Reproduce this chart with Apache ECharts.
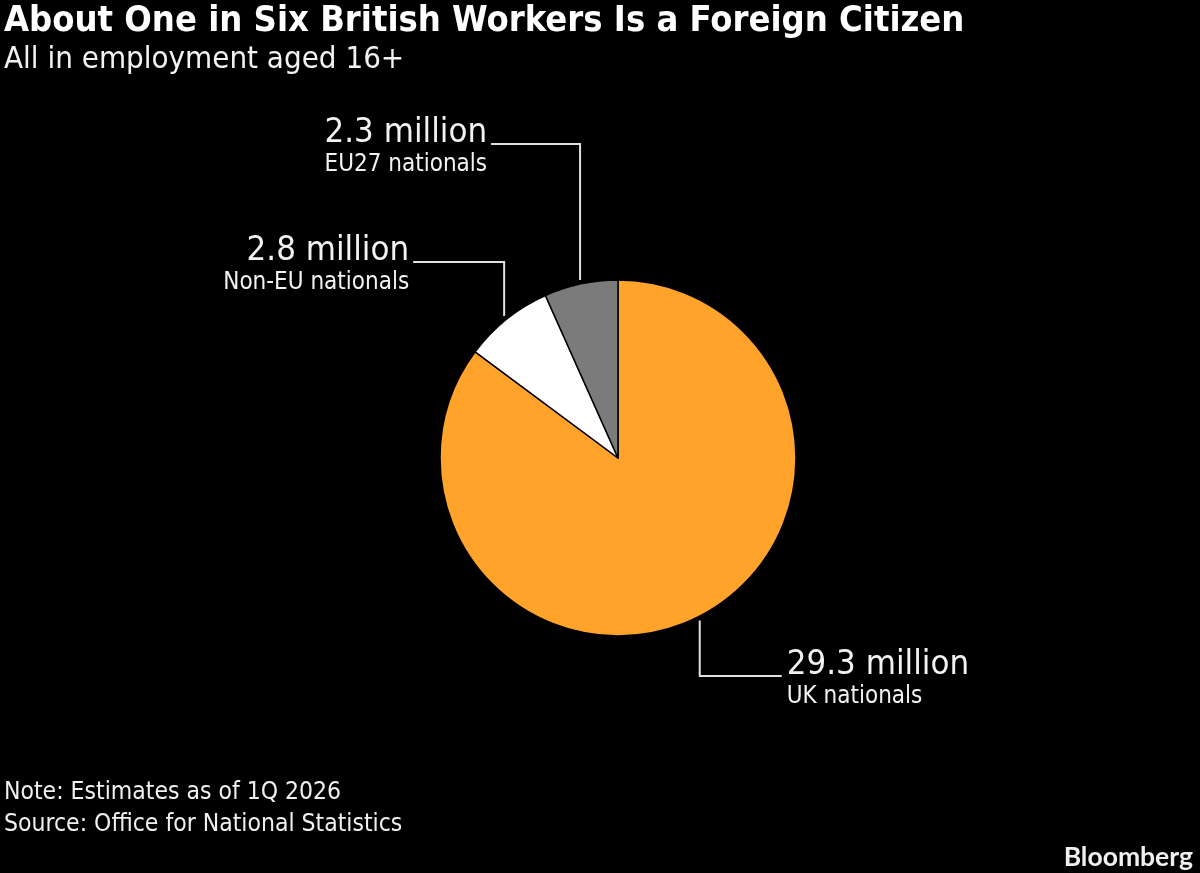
<!DOCTYPE html>
<html>
<head>
<meta charset="utf-8">
<script src="https://cdn.jsdelivr.net/npm/echarts@6/dist/echarts.min.js"></script>
<style>
  html, body { margin: 0; padding: 0; background: #000; }
  #chart { width: 1200px; height: 873px; }
</style>
</head>
<body>
<div id="chart"></div>
<script>
var categories = ['UK nationals', 'Non-EU nationals', 'EU27 nationals'];
var values = [29.3, 2.8, 2.3];
var valueLabels = ['29.3 million', '2.8 million', '2.3 million'];
var colors = ['#ffa32b', '#ffffff', '#7b7b7b'];

var FONT = '"DejaVu Sans Condensed", "DejaVu Sans", sans-serif';
var CX = 618, CY = 458, R = 178;

// where each label sits: y of the elbow, length of the horizontal run
var labelPlace = [
  { elbowY: 676, run: 82, side: 'right' },
  { elbowY: 262, run: 91, side: 'left' },
  { elbowY: 144, run: 89, side: 'left' }
];

var total = values.reduce(function (a, b) { return a + b; }, 0);
function midAngle(i) {
  var cum = 0;
  for (var k = 0; k < i; k++) cum += values[k];
  return (cum + values[i] / 2) / total * Math.PI * 2;
}

var pieData = categories.map(function (c, i) {
  return { name: c, value: values[i], itemStyle: { color: colors[i] } };
});

var myChart = echarts.init(document.getElementById('chart'));

var option = {
  backgroundColor: '#000',
  animation: false,
  title: [
    {
      text: 'About One in Six British Workers Is a Foreign Citizen',
      subtext: 'All in employment aged 16+',
      left: -1, top: -1, itemGap: 4,
      textStyle: { color: '#fff', fontFamily: FONT, fontWeight: 'bold', fontSize: 36 },
      subtextStyle: { color: '#f2f2f2', fontFamily: FONT, fontSize: 31 }
    },
    {
      text: 'Note: Estimates as of 1Q 2026\nSource: Office for National Statistics',
      left: -1, top: 772,
      textStyle: { color: '#f0f0f0', fontFamily: FONT, fontWeight: 'normal', fontSize: 24.5, lineHeight: 32 }
    },
    {
      text: 'Bloomberg',
      right: 2, top: 839,
      textStyle: { color: '#f0f0f0', fontFamily: 'Lato, "Open Sans", sans-serif', fontWeight: 'bold', fontSize: 26.5 }
    }
  ],
  series: [{
    type: 'pie',
    center: [CX, CY],
    radius: [0, R],
    startAngle: 90,
    clockwise: true,
    silent: true,
    data: pieData,
    itemStyle: { borderColor: '#000', borderWidth: 1.5 },
    label: {
      show: true,
      position: 'outside',
      color: '#f2f2f2',
      fontFamily: FONT,
      formatter: function (p) {
        return '{v|' + valueLabels[p.dataIndex] + '}\n{n|' + p.name + '}';
      },
      rich: {
        v: { fontSize: 34.5, lineHeight: 36, fontFamily: FONT, color: '#f2f2f2' },
        n: { fontSize: 24, lineHeight: 27, fontFamily: FONT, color: '#f2f2f2' }
      }
    },
    labelLine: { show: true, lineStyle: { color: '#e0e0e0', width: 2 } },
    labelLayout: function (params) {
      var i = params.dataIndex;
      var pl = labelPlace[i];
      var a = midAngle(i);
      var r0 = R + 4;
      var ax = CX + r0 * Math.sin(a);
      var ay = CY - r0 * Math.cos(a);
      var ex = pl.side === 'left' ? ax - pl.run : ax + pl.run;
      return {
        x: pl.side === 'left' ? ex - 4 : ex + 5,
        y: pl.elbowY - 29,
        align: pl.side === 'left' ? 'right' : 'left',
        verticalAlign: 'top',
        labelLinePoints: [[ax, ay], [ax, pl.elbowY], [ex, pl.elbowY]]
      };
    }
  }]
};

myChart.setOption(option);
</script>
</body>
</html>
